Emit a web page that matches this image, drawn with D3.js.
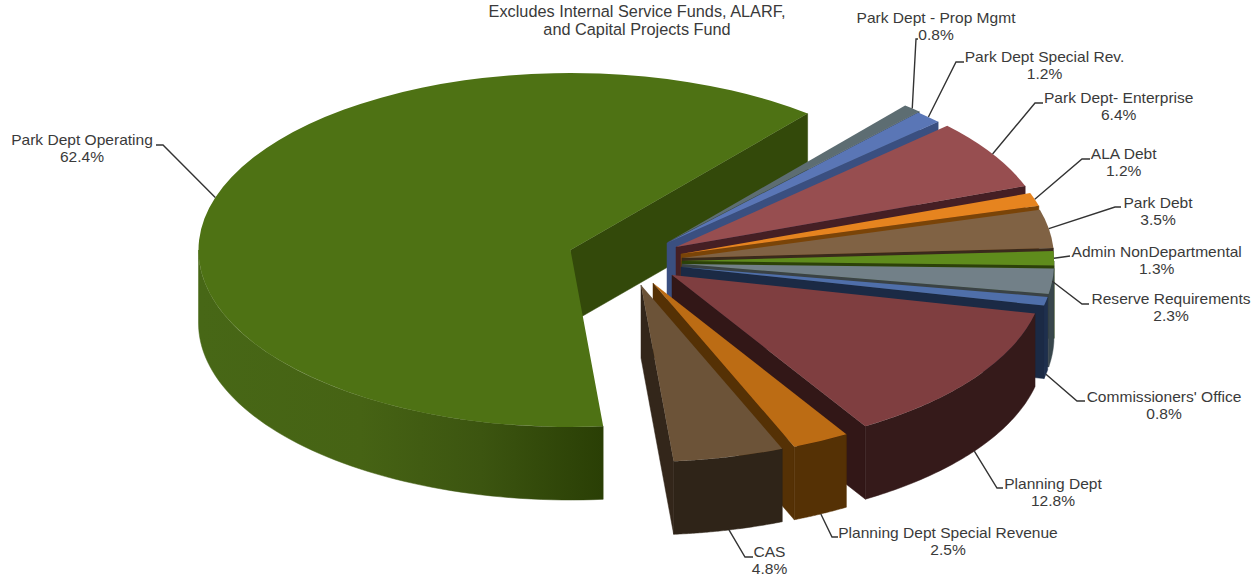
<!DOCTYPE html>
<html>
<head>
<meta charset="utf-8">
<title>Budget by fund</title>
<script src="https://cdn.jsdelivr.net/npm/d3@7/dist/d3.min.js"></script>
<style>
  html, body { margin: 0; padding: 0; background: #fff; }
  svg { display: block; }
  text { font-family: "Liberation Sans", Arial, sans-serif; font-size: 15.55px; fill: #3a3a3a; text-anchor: middle; }
  text.note { font-size: 16.3px; }
</style>
</head>
<body>
<svg id="chart" width="1260" height="577"></svg>
<script>
// Fund shares, in percent, clockwise from the first slice.
const categories = ["Park Dept - Prop Mgmt", "Park Dept Special Rev.", "Park Dept- Enterprise", "ALA Debt",
  "Park Debt", "Admin NonDepartmental", "Reserve Requirements", "Commissioners' Office",
  "Planning Dept", "Planning Dept Special Revenue", "CAS", "Park Dept Operating"];
const shares = [0.8, 1.2, 6.4, 1.2, 3.5, 1.3, 2.3, 0.8, 12.8, 2.5, 4.8, 62.4];
const titleLines = ["Excludes Internal Service Funds, ALARF,", "and Capital Projects Fund"];

// Slice styling.
const topColors = ["#5d6d72", "#5a76b6", "#974e50", "#e6841f", "#806244", "#5f8c1c", "#728088", "#4f6faa", "#7f3e40", "#bc6c14", "#6c5338", "#4e7214"];
const cutColors = ["#39474a", "#3a4f80", "#451f24", "#7a4408", "#3a2a1c", "#2c4208", "#3a4245", "#1b2a45", "#321717", "#553105", "#33261a", "#33490a"];
const rimColors = ["#39474a", "#3a4f80", "#451f24", "#7a4408", "#3a2a1c", "#2c4208", "#38464c", "#1e2f4d", "#351a1a", "#553105", "#2f2418", "url(#operatingRim)"];

// Exploded position of each slice's tip on the page.
const tipX = [668, 667, 676, 681, 682, 682, 682, 681, 672, 653, 641, 570.5];
const tipY = [242, 243, 247, 254, 258, 261, 264, 267, 275, 283, 285, 250];

// Label placement: centre, first baseline, leader elbow, leader end, and whether the leader leaves the lower rim.
const labelX = [936, 1044.5, 1118.7, 1123.7, 1158, 1156.7, 1171, 1164, 1053, 948, 769.5, 82];
const labelY = [23, 62, 103, 159, 208, 257, 304, 402, 489, 538, 557, 145];
const elbowX = [916, 956, 1035, 1082, 1115, 1063, 1082, 1077, 997, 832, 745, 163];
const elbowY = [39, 62, 103, 159, 207, 257, 304, 401, 488, 537, 557, 145];
const endX = [918, 964, 1043, 1090, 1121, 1070, 1089, 1085, 1003, 838, 753, 156];
const endY = [39, 62, 103, 159, 207, 256, 304, 401, 488, 537, 557, 145];
const fromLowerRim = [false, false, false, false, false, false, false, true, true, true, true, false];

const radiusX = 372, radiusY = 177, thickness = 73;
const firstAngle = 39.6 * Math.PI / 180;

const svg = d3.select("#chart");

const rimGradient = svg.append("defs").append("linearGradient")
  .attr("id", "operatingRim").attr("gradientUnits", "userSpaceOnUse")
  .attr("x1", 200).attr("x2", 602).attr("y1", 0).attr("y2", 0);
[[0, "#476716"], [0.4, "#466314"], [0.7, "#3c5510"], [1, "#2a3f05"]].forEach(([o, c]) =>
  rimGradient.append("stop").attr("offset", o).attr("stop-color", c));

const pie = d3.pie().sort(null).startAngle(firstAngle).endAngle(firstAngle + 2 * Math.PI);
const arcs = pie(shares);

// Unit-circle scales project the pie onto its tilted ellipse.
const sx = d3.scaleLinear().domain([-1, 1]).range([-radiusX, radiusX]);
const sy = d3.scaleLinear().domain([-1, 1]).range([-radiusY, radiusY]);
const rim = (i, t) => [tipX[i] + sx(Math.sin(t)), tipY[i] + sy(-Math.cos(t))];
const down = p => [p[0], p[1] + thickness];

const face = d3.line().curve(d3.curveLinearClosed);
const topArc = d3.arc().innerRadius(0).outerRadius(radiusX);
const pieLayer = svg.append("g");

// The large slice sits behind the fan of small ones, so it is painted first.
const paintOrder = [arcs.length - 1].concat(d3.range(arcs.length - 1));
paintOrder.forEach(i => {
  const a = arcs[i];
  const g = pieLayer.append("g");

  // Cut face on the clockwise side of the slice.
  if (Math.sin(a.endAngle) > 0) {
    const tip = [tipX[i], tipY[i]], edge = rim(i, a.endAngle);
    g.append("path").attr("fill", cutColors[i]).attr("stroke", cutColors[i]).attr("stroke-width", 0.5)
      .attr("d", face([tip, edge, down(edge), down(tip)]));
  }

  // Curved rim, only where it faces the viewer.
  const from = Math.max(a.startAngle, Math.PI / 2);
  const to = Math.min(a.endAngle, 3 * Math.PI / 2);
  if (to > from) {
    const upper = d3.range(0, 61).map(k => rim(i, from + (to - from) * k / 60));
    g.append("path").attr("fill", rimColors[i]).attr("stroke", rimColors[i]).attr("stroke-width", 0.5)
      .attr("d", face(upper.concat(upper.map(down).reverse())));
  }

  // Top surface.
  g.append("path").attr("fill", topColors[i])
    .attr("transform", `translate(${tipX[i]},${tipY[i]}) scale(1,${radiusY / radiusX})`)
    .attr("d", topArc(a));
});

// Leader lines run from the middle of each slice's rim to its label.
const leader = d3.line();
const leaders = svg.append("g").attr("fill", "none").attr("stroke", "#333").attr("stroke-width", 1.4);
arcs.forEach((a, i) => {
  const mid = (a.startAngle + a.endAngle) / 2;
  const p = rim(i, mid);
  const start = fromLowerRim[i] ? down(p) : p;
  leaders.append("path").attr("d", leader([start, [elbowX[i], elbowY[i]], [endX[i], endY[i]]]));
});

// Labels: name over percentage.
const labels = svg.append("g");
categories.forEach((name, i) => {
  labels.append("text").attr("x", labelX[i]).attr("y", labelY[i]).text(name);
  labels.append("text").attr("x", labelX[i]).attr("y", labelY[i] + 17).text(d3.format(".1f")(shares[i]) + "%");
});
titleLines.forEach((line, i) => {
  labels.append("text").attr("class", "note").attr("x", 637).attr("y", 17 + i * 18).text(line);
});
</script>
</body>
</html>
